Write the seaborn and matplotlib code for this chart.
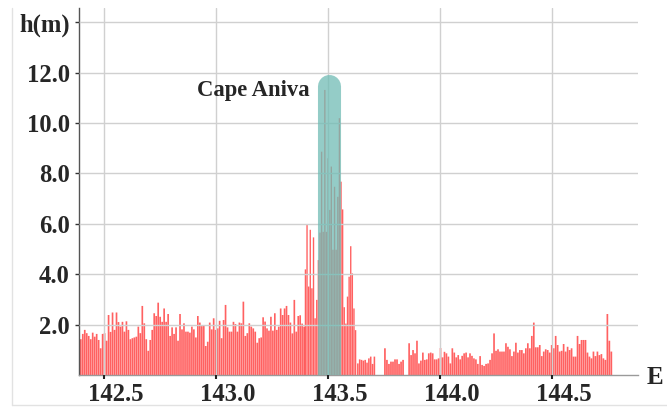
import numpy as np
import pandas as pd
import matplotlib
matplotlib.use("Agg")
import matplotlib.pyplot as plt
import matplotlib.transforms as mtransforms
from matplotlib.lines import Line2D
import seaborn as sns

# Maximum run-up height h (m) along the coast. Each run of coastline is given by the
# longitude of its first and last sample; samples are evenly spaced in between.
run_a_lon = (142.396, 142.777)
run_a_h = [1.42, 1.63, 1.79, 1.66, 1.55, 1.42, 1.68, 1.52, 1.63, 1.39, 1.06, 1.63, 1.66, 1.36,
           2.38, 1.71, 2.48, 1.79, 2.48, 2.10, 1.92, 2.11, 1.72, 2.13, 1.79, 1.42, 1.46, 1.49,
           1.52, 1.92, 1.66, 2.74, 2.05, 1.42, 0.96, 1.39, 1.79, 2.45, 2.34, 2.87, 2.31, 2.11,
           2.64, 2.11]

run_b_lon = (142.786, 143.175)
run_b_h = [2.42, 1.55, 1.89, 1.63, 1.89, 1.36, 2.42, 1.81, 2.05, 1.72, 1.72, 1.68, 1.92, 1.81,
           1.49, 2.34, 2.08, 1.94, 1.98, 1.15, 1.32, 2.08, 1.81, 2.25, 1.79, 1.85, 2.15, 1.46,
           2.18, 2.78, 1.89, 1.72, 1.72, 2.11, 2.02, 1.72, 2.08, 2.05, 2.91, 1.55, 1.66, 2.05,
           1.92, 1.85, 1.72]

run_c_lon = (143.184, 143.393)
run_c_h = [1.28, 1.46, 1.49, 2.29, 2.12, 1.85, 1.76, 2.31, 1.76, 2.45, 1.79, 1.92, 2.64, 2.38,
           2.64, 2.74, 2.38, 2.08, 1.65, 2.98, 1.72, 2.34, 2.37, 2.04, 1.92]

run_cape_lon = (143.399, 143.623)
run_cape_h = [4.19, 5.95, 3.51, 5.76, 3.44, 5.46, 2.25, 2.98, 4.56, 5.65, 8.86, 5.68, 11.31,
              5.68, 8.60, 6.55, 8.27, 4.97, 7.47, 4.97, 7.07, 10.19, 7.67, 6.57, 2.69, 2.04,
              3.11, 3.90, 5.11, 4.03, 2.64, 1.78]

run_d_lon = (143.633, 143.707)
run_d_h = [0.46, 0.62, 0.60, 0.57, 0.60, 0.49, 0.66, 0.73, 0.44, 0.73]

run_e_lon = (143.754, 143.835)
run_e_h = [1.06, 0.60, 0.44, 0.53, 0.53, 0.62, 0.62, 0.44, 0.53, 0.60]

run_f_lon = (143.862, 144.169)
run_f_h = [1.26, 0.79, 0.99, 0.86, 1.36, 0.46, 0.57, 0.89, 0.60, 0.62, 0.86, 0.89, 0.86, 0.62,
           0.62, 0.66, 1.07, 0.70, 0.92, 0.86, 0.73, 0.46, 1.06, 0.89, 0.70, 0.79, 0.62, 0.76,
           0.86, 0.89, 0.70, 0.86, 0.76, 0.66, 0.62, 0.44]

run_g_lon = (144.179, 144.765)
run_g_h = [0.75, 0.40, 0.36, 0.44, 0.46, 0.60, 0.86, 1.65, 0.96, 1.02, 0.93, 0.93, 0.93, 1.26,
           1.12, 1.02, 0.75, 0.93, 1.28, 0.89, 0.99, 0.99, 0.86, 1.06, 1.26, 1.06, 1.55, 2.08,
           1.10, 1.10, 1.19, 0.75, 0.93, 1.02, 0.99, 0.89, 1.19, 1.06, 1.55, 1.19, 0.93, 0.96,
           1.23, 0.93, 1.12, 0.99, 1.06, 0.73, 0.73, 1.55, 1.23, 1.39, 1.39, 1.39, 0.89, 0.73,
           0.66, 0.93, 0.75, 0.93, 0.79, 0.83, 0.66, 0.60, 2.42, 1.36, 0.93]

runs = [(run_a_lon, run_a_h), (run_b_lon, run_b_h), (run_c_lon, run_c_h),
        (run_cape_lon, run_cape_h), (run_d_lon, run_d_h), (run_e_lon, run_e_h),
        (run_f_lon, run_f_h), (run_g_lon, run_g_h)]

# Highlighted location
cape_name = "Cape Aniva"
cape_lon = 143.503
cape_top = 11.94
cape_label_lon = 143.42
cape_label_h = 11.3

xticks = [142.5, 143.0, 143.5, 144.0, 144.5]
xtick_labels = ["142.5", "143.0", "143.5", "144.0", "144.5"]
yticks = [2, 4, 6, 8, 10, 12, 14]
ytick_labels = ["2.0", "4.0", "6.0", "8.0", "10.0", "12.0", "h(m)"]
x_label = "E"

sns.set_style("white")
plt.rcParams["font.family"] = ["Liberation Serif", "DejaVu Serif"]
plt.rcParams["font.weight"] = "bold"

fig = plt.figure(figsize=(6.67, 4.09), dpi=100)
ax = fig.add_axes([79 / 667, 34 / 409, 559 / 667, 367 / 409])

# One bar per sample: a weighted histogram whose bins are centred on the samples
for (lon0, lon1), heights in runs:
    n = len(heights)
    lon = np.linspace(lon0, lon1, n)
    pitch = (lon1 - lon0) / (n - 1)
    run_df = pd.DataFrame({"lon": lon, "h": heights})
    sns.histplot(data=run_df, x="lon", weights="h", bins=n,
                 binrange=(lon0 - pitch / 2, lon1 + pitch / 2), shrink=0.85,
                 color="#ff0000", alpha=0.62, linewidth=0, snap=False,
                 ax=ax, zorder=2)

ax.set_xlim(142.388, 144.884)
ax.set_ylim(0, 14.56)

# Rounded marker column over the cape
fig.canvas.draw()
px_w = abs(ax.transData.transform((cape_lon + 0.0515, 0))[0]
           - ax.transData.transform((cape_lon - 0.0515, 0))[0])
px_per_h = abs(ax.transData.transform((0, 1))[1] - ax.transData.transform((0, 0))[1])
radius_h = (px_w / 2) / px_per_h
ax.plot([cape_lon, cape_lon], [-2, cape_top - radius_h],
        lw=px_w * 72 / fig.dpi, solid_capstyle="round",
        color="#70bcb5", alpha=0.75, zorder=3)

ax.text(cape_label_lon, cape_label_h, cape_name, ha="right", va="center",
        fontsize=16.3, fontweight="bold", zorder=5)

ax.set_xticks(xticks)
ax.set_xticklabels(xtick_labels)
ax.set_yticks(yticks)
ax.set_yticklabels(ytick_labels)
ax.set_xlabel("")
ax.set_ylabel("")

ax.grid(True, color="#d0d0d0", lw=1)
ax.set_axisbelow(False)
for gl in ax.get_xgridlines() + ax.get_ygridlines():
    gl.set_zorder(4)

for side in ("top", "right"):
    ax.spines[side].set_visible(False)
ax.spines["left"].set_color("#555555")
ax.spines["bottom"].set_color("#9a9a9a")
ax.spines["left"].set_linewidth(1)
ax.spines["bottom"].set_linewidth(1)

ax.tick_params(axis="y", length=3, width=1, color="#333333", pad=3.5,
               labelsize=17.7, left=True)
ax.tick_params(axis="x", length=3, width=1.5, color="#222222", pad=3,
               labelsize=17.7, bottom=True)
shift = mtransforms.ScaledTranslation(0.118, 0, fig.dpi_scale_trans)
for lbl in ax.get_xticklabels():
    lbl.set_fontweight("bold")
    lbl.set_transform(lbl.get_transform() + shift)
for lbl in ax.get_yticklabels():
    lbl.set_fontweight("bold")

fig.text(655 / 667, 1 - 377 / 409, x_label, ha="center", va="center",
         fontsize=18, fontweight="bold")

# Light page frame on the left and bottom
fig.add_artist(Line2D([12 / 667, 12 / 667], [4 / 409, 1 - 8 / 409],
                      transform=fig.transFigure, color="#e2e2e2", lw=1))
fig.add_artist(Line2D([12 / 667, 1], [4 / 409, 4 / 409],
                      transform=fig.transFigure, color="#e2e2e2", lw=1))

fig.savefig("out.png", dpi=100)
